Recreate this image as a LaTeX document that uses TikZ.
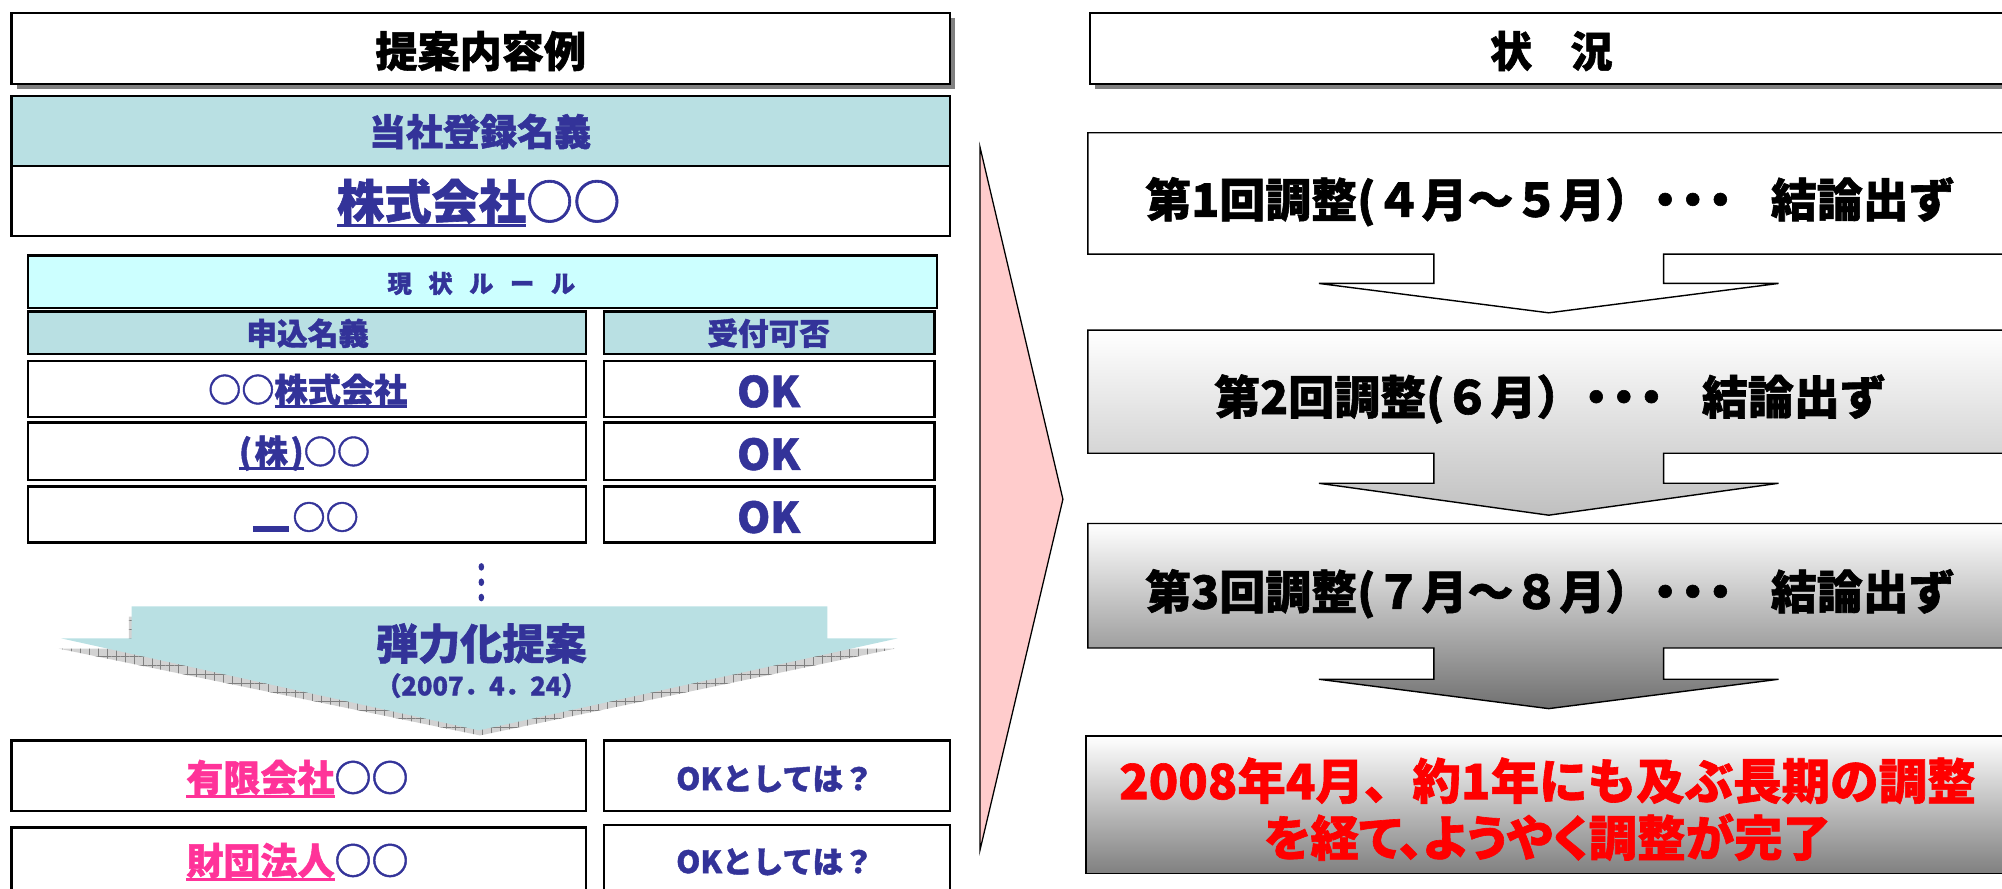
\documentclass[tikz,border=0pt]{standalone}
\usepackage{fontspec}
\setmainfont{Noto Sans CJK JP}[BoldFeatures={FakeBold=1.3}]
\newfontfamily\paltfont{Noto Sans CJK JP}[RawFeature=+palt, BoldFeatures={FakeBold=1.3}]
\usetikzlibrary{patterns.meta}
\definecolor{navy}{RGB}{51,51,153}
\definecolor{tealf}{RGB}{185,224,227}
\definecolor{cyanf}{RGB}{204,255,255}
\definecolor{pinkt}{RGB}{255,51,153}
\definecolor{pinkf}{RGB}{255,204,204}
\definecolor{shadowg}{RGB}{128,128,128}
\definecolor{grayA}{RGB}{192,192,192}
\definecolor{grayB}{RGB}{112,112,112}
\definecolor{grayC}{RGB}{128,128,128}
\newcommand\fs[1]{\fontsize{#1}{#1}\selectfont}
\newcommand\myul[1]{\setbox0=\hbox{#1}\rlap{\rule[-0.17em]{\wd0}{0.07em}}\box0}
\newcommand\tdots{\makebox[0.6em]{・}\makebox[0.6em]{・}\makebox[0.6em]{・}}
\begin{document}
\begin{tikzpicture}[x=1pt,y=-1pt,
  box/.style={draw=black, line width=1.6pt},
  cell/.style={draw=black, line width=1.8pt},
  thin/.style={draw=black, line width=1.1pt},
  txt/.style={inner sep=0pt, font=\bfseries, text=navy},
  btxt/.style={inner sep=0pt, font=\bfseries, text=black},
  rtxt/.style={inner sep=0pt, font=\bfseries, text=red, align=center}]
\useasboundingbox (0,0) rectangle (1568,696);

% ---------- left column ----------
\fill[shadowg] (13,14) rectangle (748,70);
\draw[box, fill=white] (9,10) rectangle (744,66);
\node[btxt] (ltitle) at (376.5,40) {\fs{33}提案内容例};

\draw[box, fill=tealf] (9,75) rectangle (744,130);
\node[txt] (regname) at (376,103) {\fs{29}当社登録名義};
\draw[box, fill=white] (9,130) rectangle (744,185);
\node[txt] (regval) at (375,159) {\fs{37}\myul{株式会社}○○};

\draw[cell, fill=cyanf] (22,200) rectangle (734,241);
\node[txt] (rule) at (377,222) {\fs{19}現\hspace{13pt}状\hspace{13pt}ル\hspace{13pt}ー\hspace{13pt}ル};

\draw[cell, fill=tealf] (22,244) rectangle (459,277);
\node[txt] (hdA) at (241,261) {\fs{24}申込名義};
\draw[cell, fill=tealf] (473,244) rectangle (732,277);
\node[txt] (hdB) at (602,261) {\fs{24}受付可否};

\draw[cell, fill=white] (22,283) rectangle (459,326.5);
\node[txt] (r1a) at (241,306) {\fs{26}○○\myul{株式会社}};
\draw[cell, fill=white] (473,283) rectangle (732,326.5);
\node[txt] (r1b) at (602,306.6) {\fs{33}OK};

\draw[cell, fill=white] (22,331) rectangle (459,376);
\node[txt] (r2a) at (238.5,355) {\fs{26}\myul{(\hspace{2pt}株\hspace{2pt})}○○};
\draw[cell, fill=white] (473,331) rectangle (732,376);
\node[txt] (r2b) at (602,355.7) {\fs{33}OK};

\draw[cell, fill=white] (22,381) rectangle (459,425);
\node[txt] (r3a) at (239.5,405) {\fs{26}\rule[-2pt]{28pt}{5pt}\hspace{3pt}○○};
\draw[cell, fill=white] (473,381) rectangle (732,425);
\node[txt] (r3b) at (602,405) {\fs{33}OK};

\foreach \yy in {444,456,468} \fill[navy] (377,\yy) ellipse [x radius=2.2pt, y radius=3pt];

% big arrow with hatched shadow
\fill[gray!35] (101,483) -- (646,483) -- (646,508) -- (701,508) -- (376,576) -- (46,508) -- (101,508) -- cycle;
\fill[pattern={Hatch[angle=0,distance=7pt,line width=0.6pt]}, pattern color=gray] (101,483) -- (646,483) -- (646,508) -- (701,508) -- (376,576) -- (46,508) -- (101,508) -- cycle;
\fill[tealf] (103,475) -- (648,475) -- (648,500) -- (703,500) -- (375,572) -- (48,500) -- (103,500) -- cycle;
\node[txt] (prop) at (377,504) {\fs{33}弾力化提案};
\node[txt] (propdate) at (377,537) {\fs{20}（2007．4．24）};

\draw[cell, fill=white] (9,580) rectangle (459,635);
\node[txt] (n1a) at (233,610) {\fs{29}\textcolor{pinkt}{\myul{有限会社}}○○};
\draw[cell, fill=white] (473,580) rectangle (744,635);
\node[txt] (n1b) at (607,610) {\fs{24}OKとしては？};

\draw[cell, fill=white] (9,648) rectangle (459,712);
\node[txt] (n2a) at (233,675) {\fs{29}\textcolor{pinkt}{\myul{財団法人}}○○};
\draw[cell, fill=white] (473,646) rectangle (744,712);
\node[txt] (n2b) at (607,675) {\fs{24}OKとしては？};

% ---------- middle triangle ----------
\draw[fill=pinkf, draw=black, line width=1pt] (767.5,115) -- (832.5,391) -- (767.5,666) -- cycle;

% ---------- right column ----------
\fill[shadowg] (858,14) rectangle (1580,70);
\draw[box, fill=white] (854,10) rectangle (1576,66);
\node[btxt] (rtitle) at (1215,40) {\fs{33}状\hspace{30pt}況};

\draw[thin, fill=white] (852,104) -- (1576,104) -- (1576,199) -- (1303,199) -- (1303,222) -- (1393,222) -- (1213,245) -- (1033,222) -- (1123,222) -- (1123,199) -- (852,199) -- cycle;
\node[btxt] (s1) at (1214,158) {\fs{36}第1回調整(４月～５月）\tdots\hspace{0.8em}結論出ず};

\shade[top color=white, bottom color=grayA] (852,258.5) -- (1576,258.5) -- (1576,355) -- (1303,355) -- (1303,378.5) -- (1393,378.5) -- (1213,403.5) -- (1033,378.5) -- (1123,378.5) -- (1123,355) -- (852,355) -- cycle;
\draw[thin] (852,258.5) -- (1576,258.5) -- (1576,355) -- (1303,355) -- (1303,378.5) -- (1393,378.5) -- (1213,403.5) -- (1033,378.5) -- (1123,378.5) -- (1123,355) -- (852,355) -- cycle;
\node[btxt] (s2) at (1214,312.5) {\fs{36}第2回調整(６月）\tdots\hspace{0.8em}結論出ず};

\shade[top color=white, bottom color=grayB] (852,410) -- (1576,410) -- (1576,507.5) -- (1303,507.5) -- (1303,532) -- (1393,532) -- (1213,555) -- (1033,532) -- (1123,532) -- (1123,507.5) -- (852,507.5) -- cycle;
\draw[thin] (852,410) -- (1576,410) -- (1576,507.5) -- (1303,507.5) -- (1303,532) -- (1393,532) -- (1213,555) -- (1033,532) -- (1123,532) -- (1123,507.5) -- (852,507.5) -- cycle;
\node[btxt] (s3) at (1214,465) {\fs{36}第3回調整(７月～８月）\tdots\hspace{0.8em}結論出ず};

\shade[top color=white, bottom color=grayC] (850.5,576.5) rectangle (1576,684);
\draw[thin] (850.5,576.5) rectangle (1576,684);
\node[rtxt] (s4a) at (1212,611.5) {\fs{38}2008年4月、約1年にも及ぶ長期の調整};
\node[rtxt] (s4b) at (1212,655.7) {\fs{38}\paltfont を経て、ようやく調整が完了};
\end{tikzpicture}
\end{document}
